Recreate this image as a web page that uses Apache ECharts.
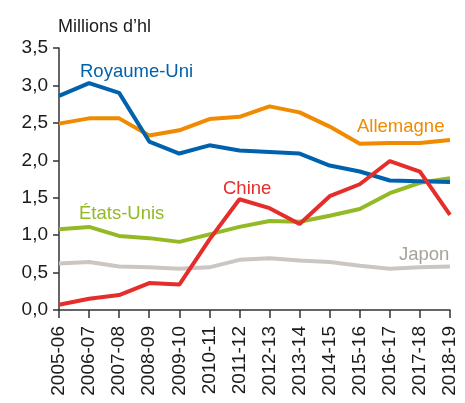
<!DOCTYPE html>
<html>
<head>
<meta charset="utf-8">
<script src="https://cdn.jsdelivr.net/npm/echarts@6/dist/echarts.min.js"></script>
<style>
  html, body { margin: 0; padding: 0; background: #fff; }
  #chart { width: 465px; height: 403px; }
</style>
</head>
<body>
<div id="chart"></div>
<script>
var years = ['2005-06', '2006-07', '2007-08', '2008-09', '2009-10', '2010-11', '2011-12',
  '2012-13', '2013-14', '2014-15', '2015-16', '2016-17', '2017-18', '2018-19'];

var royaumeUni = [2.86, 3.03, 2.90, 2.25, 2.09, 2.20, 2.13, 2.11, 2.09, 1.93, 1.85, 1.73, 1.72, 1.71];
var allemagne = [2.49, 2.56, 2.56, 2.33, 2.40, 2.55, 2.58, 2.72, 2.64, 2.45, 2.22, 2.23, 2.23, 2.27];
var chine = [0.07, 0.15, 0.20, 0.36, 0.34, 0.94, 1.48, 1.36, 1.15, 1.52, 1.68, 1.99, 1.85, 1.27];
var etatsUnis = [1.08, 1.11, 0.99, 0.96, 0.91, 1.01, 1.11, 1.19, 1.18, 1.26, 1.35, 1.56, 1.70, 1.76];
var japon = [0.62, 0.64, 0.58, 0.57, 0.55, 0.57, 0.67, 0.69, 0.66, 0.64, 0.59, 0.55, 0.57, 0.58];

var font = 'Liberation Sans, Arial, sans-serif';
var ink = '#1a1a1a';

var myChart = echarts.init(document.getElementById('chart'));

function line(name, data, color) {
  return {
    name: name,
    type: 'line',
    data: data,
    symbol: 'none',
    lineStyle: { color: color, width: 4 },
    z: 2
  };
}

// series names written next to the lines
function tag(text, x, y, color, size) {
  return {
    type: 'text',
    x: x,
    y: y,
    style: {
      text: text, fill: color, font: (size || 18.5) + 'px ' + font,
      verticalAlign: 'middle'
    }
  };
}

var option = {
  animation: false,
  grid: { left: 59, right: 15, top: 48, bottom: 93, containLabel: false },
  xAxis: {
    type: 'category',
    data: years,
    boundaryGap: false,
    axisLine: { lineStyle: { color: '#333', width: 1.5 } },
    axisTick: { show: true, length: 8, alignWithLabel: true, lineStyle: { color: '#333', width: 1.5 } },
    axisLabel: { rotate: 90, color: ink, fontSize: 19, fontFamily: font, margin: 16, interval: 0 }
  },
  yAxis: {
    type: 'value',
    min: 0,
    max: 3.5,
    interval: 0.5,
    splitLine: { show: false },
    axisLine: { show: true, lineStyle: { color: '#333', width: 1.5 } },
    axisTick: { show: true, length: 6, lineStyle: { color: '#333', width: 1.5 } },
    axisLabel: {
      color: ink, fontSize: 19, fontFamily: font, margin: 11,
      formatter: function (v) { return v.toFixed(1).replace('.', ','); }
    }
  },
  graphic: [
    tag('Millions d\u2019hl', 58, 27, ink, 18),
    tag('Royaume-Uni', 80, 72, '#0062ac'),
    tag('Allemagne', 357, 127, '#f08a00'),
    tag('Chine', 223, 189, '#e52e2b'),
    tag('\u00c9tats-Unis', 79, 214, '#93b925'),
    tag('Japon', 399, 255, '#a8a29c')
  ],
  series: [
    line('Japon', japon, '#cbc6c2'),
    line('\u00c9tats-Unis', etatsUnis, '#93b925'),
    line('Allemagne', allemagne, '#f08a00'),
    line('Royaume-Uni', royaumeUni, '#0062ac'),
    line('Chine', chine, '#e52e2b')
  ]
};

myChart.setOption(option);
</script>
</body>
</html>
